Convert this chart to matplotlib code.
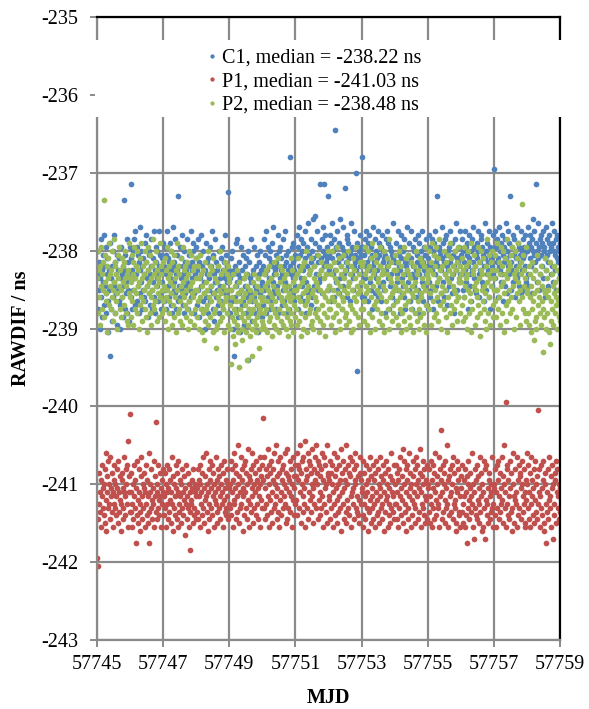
import numpy as np
import matplotlib
matplotlib.use("Agg")
import matplotlib.pyplot as plt
from matplotlib.patches import Rectangle

plt.rcParams["font.family"] = ["Liberation Serif", "DejaVu Serif"]
plt.rcParams["axes.unicode_minus"] = False

# RAWDIF values are stored as one character per track, one string per day;
# each character is a level of 0.05 ns above the series base.
LEVELS = "0123456789abcdefghijklmnopqrstuvwxyzABCDEFGHIJKLMNOPQRSTUVWXYZ#$%&"
STEP_NS = 0.05
FIRST_MJD = 57745

C1_BASE = -239.60
P1_BASE = -242.10
P2_BASE = -239.60

C1_DAYS = [
    "qhwmtcpzkrfvoAinsgxluqbjrmy5pheskwnoAtgqlvdrmjuicpxqksfnJrhvlozgmtpeqx",
    "NkuhrwmzpiBqsjxnvgtlCrowhsmuqkyjtAnpfrvlwiqszmhuoBkrgxtnpwjqsBlvhruomy",
    "sjxmqvhBrnutkpyiwrgsCmotlzqhrvjKnsxkpumAqisgwtlrnozhqvjsmBktprwylgsqux",
    "rizmtfvpnAqhsjwolrcyktqgumpxjsnBrhvlqeoztkmrsigwpnujqxhrtmAlpvksogLrq",
    "pgumjwqc5rksyhnozfqltbpxmirvjpdnsgukq4wmhtlpzoejrqxkngsmivpbthqlwnrfo",
    "sizmqvgBrnxkupwhtjsyoCmqlrhvtsnAgkwpxuriqmzjsBovtgnrwhkUsqmxlptyjrvn",
    "umAqxhsCkvzpnwrytjBuogxslDvqrmzitwkEusnyFqhvBmtxoNpruzlwCsNvAqtxuKmr",
    "vnAsyjuDqwkzr$xomBvtlyEpsuhxCnwqvMtrAkzsyouwjDvqxpmBsvtQr1yluwnAsvxk",
    "UqxkvzpsBnwtjyrAoumxhvsCqtlzwpurBkyvnsxjqAtwomuvgzrsBpyhtxnqwkvuDmrt",
    "tjyoqBmvsgxruAlpwnzkthqsCrvoymjtuBqhxswnpzkrvtgAmyqsluwoBjtxrnvqzish",
    "uoAkxsmzrwhyvqBtnuKjsxpwvlrCuoytkzqmAvsiwrxnBtpuylqvsgzwrDmutkxoqBv",
    "uqzmwtkBrxoyvhsAuqnwjzrtCpxmsvlyuBwkqtrzAoxnvjsuDmwqyrtkBxhuvnsAqR",
    "vpBmxtzkuCswroyAqvjxtnzuDlwsByqvKmtxrAovzkwsupCyqnxtvBlrwzmuvxsAopw",
    "wqCnyuAsxlzwEvBtrNyowDuxmzqAvsyBpwxkuCrzvntAywqxDsoywBrvmzuAxtpwyq",
]

P1_DAYS = [
    "31dhpkfnbjrglemqciuakogshmdtjlfpkbnhrgmejqlcskfoiahnpdlgtkjeqmhrxbkofE",
    "kfpbhmdrjgn7lesickqfhaotjdmglpbkhrenjc7ufkmgqdilhsbjoCfkmdrgiepjlbhnkq",
    "jepgmbkrhdlqfinckthaomgejrldpkbsfhnjcmqgkeoi9lhrdjgpbmkf5ihnlcqegkmdj",
    "lfqdjnbmrhkepgtlcoiujfmakqhdnslgrejpbmkihtfncqlgodjrmhkbpsiflnegqjdmhl",
    "mgsekqbniuhlrdpjfwmcogkthnqaljreskpgmdvibohnqflujcrmgkpeshnldqjtbmiogr",
    "Dngtdlqhoevjbrmipfscknqgumhjwdolsfpbitkeqngrjmuhclpdvognksfjqbmiteolhr",
    "oiuenrgqkwcpmsfjtlhxbnqgoudksripfmvjclqhtngwmpdsirkeoqgujbnthlrfmwcpoi",
    "njsdpgmrbkuhoeqlitcmfrjngvapkshldqnfwcimrgpetojbkslhqdnumgrfjoeicptnhk",
    "lesbhpjdmrgknaqfitcojlgrdnhpbkseifqmcljtgohdrnakpfisjmbqhelcoguknfjdrh",
    "mhrdkpbnqgjteloivcmsfhkqanrgdujplbmiesokhqcgtmjrdnflpvbkhosgmeqjcnirdl",
    "mfqcjshnbrlgpdukiemoghtbqjnAkdrfpmsciglhwbnoejqfkmrdthpgialcsknqfejbo",
    "lfrchnjqbkeo7mgsidlpfjuhmb8kqgenrdoiclhtfjpambksgq8irehlcnpdjfmkgtbhl",
    "meqbkrgnsdjpfhlticowmgkHbqhrenjdslfpagmujciqkhtbnergpoldmsjfqhckbniu",
    "mgrdkpbhtjnelqcsifmdoFhkqbjrglensacpmh7kfqdtijgoblr8mehpncskqgjdmlf",
]

P2_DAYS = [
    "pgwkrdsnxhqmtJfovjlsbpuiyqnhrkwemzotgsjqlcvpnxhrfmuksotipwgnqedrylkp",
    "ofvjqdtmxhplsgwnrcouiykpesjqmhwtfnbxrlogvkpdsmizhqtjnwreplofykqsgmtj",
    "nhuerkxmcpjsgoqlwdtinfvkpbrmysghqjenuldoxkrisfpmhtcqjwnegvlokrdsmhpu",
    "mfsjpcvkhqnbrgl9tehoimwdkqfsjnrbulgph7codksmjwelqfinhrbtjmkgqsdop",
    "ic3mfkaqhe8njgrdlbo2hjfmc9kgpeilbq4ndfhjamgkc5ohqeljdbnfip7gkhcmje",
    "kdqgncrhjbomeslfipaknhtdjgqcmfulbhosekjrgdnpimcqfkhalnjeugdrkobmipf",
    "mhqdkuenjragsolctpfimwjbknqgrhdulemcpsgkojfnvhbqmertidlgpakqsmfwjh",
    "nhsdqkwfmtjpbrgoxiluecnsqhkvjmpfrgdtlwnoeiqbshmuckrgpjxnfldqmtohs",
    "ohtejqxlnrdwmgspbukyfqnircvjtmhpoelsxgkqdrnbwmjfuqshczkpoteligrmv",
    "nfrjptdmwhksbogqlxeinucrmjvfqpdhtlnkbsgowmeqjrhcuflkptgnsdxmibqor",
    "phwlrdtnyjqfvmsgxkoeupzirlcsnjwhqmtfpbvkroyguiqdsnmhwlrjtekxpogsq",
    "oiuerkxnfspcqmwgtjlybhrqnvdsomkfxiptagwrqmjunhelsczoqgvkpdtnrwifm",
    "pjvfrmyhtkqdxnsgwolbuqiepzrjtmgsvkhxnqcwprfulyojsmdtqkIhvnrgpexl",
    "mgsdkqbnhtjp9lerfcmviokgqdsjn6hmflurcpgkmbt8jehqndslgoikrcmjfpe",
]

SERIES_NAMES = ["C1", "P1", "P2"]
MEDIANS_NS = [-238.22, -241.03, -238.48]
COLORS = ["#4F81BD", "#C0504D", "#9BBB59"]

X_TICKS = [57745, 57747, 57749, 57751, 57753, 57755, 57757, 57759]
Y_TICKS = [-243, -242, -241, -240, -239, -238, -237, -236, -235]


def decode(days, base):
    mjd, vals = [], []
    for d, codes in enumerate(days):
        n = len(codes)
        for k, ch in enumerate(codes):
            mjd.append(FIRST_MJD + d + (k + 1.0) / n)
            vals.append(base + STEP_NS * LEVELS.index(ch))
    return np.array(mjd), np.array(vals)


series = [decode(C1_DAYS, C1_BASE), decode(P1_DAYS, P1_BASE), decode(P2_DAYS, P2_BASE)]

fig = plt.figure(figsize=(5.89, 7.09), dpi=100)
ax = fig.add_axes([0.1647, 0.0973, 0.9508 - 0.1647, 0.976 - 0.0973])

grid_col = "#8a8a8a"
for (x, y), name, med, col in zip(series, SERIES_NAMES, MEDIANS_NS, COLORS):
    ax.plot(x, y, linestyle="none", marker="o", ms=4.1, mec="none", mfc=col,
            label=f"{name}, median = {med:.2f} ns")

ax.set_xlim(X_TICKS[0], X_TICKS[-1])
ax.set_ylim(Y_TICKS[0], Y_TICKS[-1])
ax.set_xticks(X_TICKS)
ax.set_yticks(Y_TICKS)
ax.set_xticklabels([str(v) for v in X_TICKS])
ax.set_yticklabels([str(v) for v in Y_TICKS])
ax.grid(True, color=grid_col, linewidth=1.6)
ax.set_axisbelow(True)

for side in ("left", "bottom"):
    ax.spines[side].set_color(grid_col)
    ax.spines[side].set_linewidth(1.6)
for side in ("top", "right"):
    ax.spines[side].set_color("black")
    ax.spines[side].set_linewidth(1.6)

ax.tick_params(axis="both", direction="out", length=5, width=1.4, color=grid_col,
               labelsize=14.5, labelcolor="black")
ax.tick_params(axis="y", pad=8.5)
ax.tick_params(axis="x", pad=6)

ax.set_xlabel("MJD", fontsize=14.5, fontweight="bold", labelpad=10)
ax.set_ylabel("RAWDIF / ns", fontsize=14.5, fontweight="bold", labelpad=7)

# white band behind the legend, spanning the plot width
ax.add_patch(Rectangle((-0.004, 0.8395), 1.008, 0.1235, transform=ax.transAxes,
                       facecolor="white", edgecolor="none", zorder=3, clip_on=False))

leg = ax.legend(loc="upper left", bbox_to_anchor=(0.221, 0.962), frameon=False,
                fontsize=14.5, handlelength=0.5, handletextpad=0.25,
                labelspacing=0.22, markerscale=0.75, borderaxespad=0.0)
leg.set_zorder(5)

fig.savefig("out.png", dpi=100)
